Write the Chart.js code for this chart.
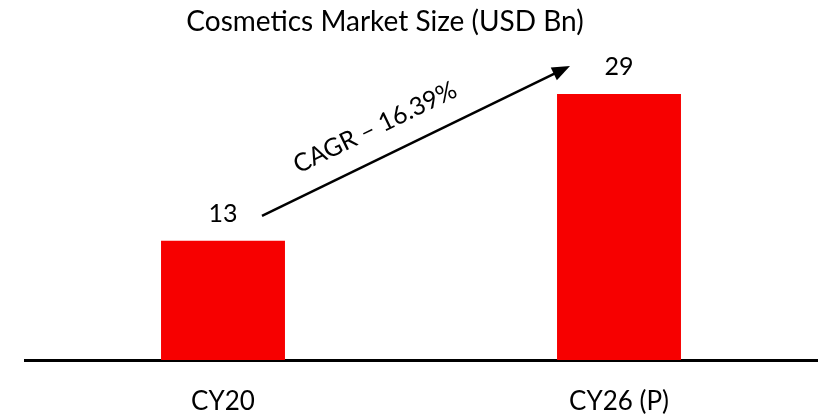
<!DOCTYPE html>
<html>
<head>
<meta charset="utf-8">
<script src="https://cdn.jsdelivr.net/npm/chart.js@4.4.1/dist/chart.umd.min.js"></script>
<style>
html,body{margin:0;padding:0;background:#fff;}
#wrap{width:820px;height:415px;position:relative;}
</style>
</head>
<body>
<div id="wrap"><canvas id="c"></canvas></div>
<script>
const categories = ["CY20", "CY26 (P)"];
const marketSize = [13, 29];
const chartTitle = "Cosmetics Market Size (USD Bn)";
const cagrLabel = "CAGR \u2013 16.39%";

const FONT = "Lato, 'Liberation Sans', sans-serif";

const overlay = {
  id: 'overlay',
  afterDatasetsDraw(chart) {
    const ctx = chart.ctx;
    const bars = chart.getDatasetMeta(0).data;
    ctx.save();
    // value labels
    ctx.fillStyle = '#000';
    ctx.font = '25px ' + FONT;
    ctx.textAlign = 'center';
    ctx.textBaseline = 'middle';
    bars.forEach((b, i) => {
      ctx.fillText(String(marketSize[i]), b.x, b.y - 27);
    });
    // title
    ctx.font = '28px ' + FONT;
    ctx.fillText(chartTitle, chart.chartArea.left + (chart.chartArea.right - chart.chartArea.left) / 2 - 36, 22);
    // arrow
    const b1 = bars[0], b2 = bars[1];
    const x1 = b1.x + 39, y1 = b1.y - 25;
    const x2 = b2.x - 49, y2 = b2.y - 28;
    const ang = Math.atan2(y2 - y1, x2 - x1);
    const head = 18;
    ctx.strokeStyle = '#000';
    ctx.lineWidth = 2.5;
    ctx.beginPath();
    ctx.moveTo(x1, y1);
    ctx.lineTo(x2 - head * 0.8 * Math.cos(ang), y2 - head * 0.8 * Math.sin(ang));
    ctx.stroke();
    ctx.beginPath();
    ctx.moveTo(x2, y2);
    ctx.lineTo(x2 - head * Math.cos(ang) + 7 * Math.sin(ang), y2 - head * Math.sin(ang) - 7 * Math.cos(ang));
    ctx.lineTo(x2 - head * Math.cos(ang) - 7 * Math.sin(ang), y2 - head * Math.sin(ang) + 7 * Math.cos(ang));
    ctx.closePath();
    ctx.fillStyle = '#000';
    ctx.fill();
    // CAGR text
    const t = 0.41;
    const mx = x1 + (x2 - x1) * t, my = y1 + (y2 - y1) * t;
    const off = 30;
    const tx = mx + off * Math.sin(ang), ty = my - off * Math.cos(ang);
    ctx.translate(tx, ty);
    ctx.rotate(ang);
    ctx.font = '25px ' + FONT;
    ctx.fillText(cagrLabel, 0, 0);
    ctx.restore();
  }
};

new Chart(document.getElementById('c'), {
  type: 'bar',
  data: {
    labels: categories,
    datasets: [{
      data: marketSize,
      backgroundColor: 'rgb(247,0,0)',
      borderWidth: 0,
      barPercentage: 0.313,
      categoryPercentage: 1.0
    }]
  },
  options: {
    responsive: true,
    maintainAspectRatio: false,
    animation: false,
    layout: { padding: { left: 25, right: 3, top: 39, bottom: 0 } },
    plugins: { legend: { display: false }, tooltip: { enabled: false }, title: { display: false } },
    scales: {
      x: {
        grid: { display: false, drawTicks: false },
        border: { display: true, color: '#000', width: 3 },
        ticks: { color: '#000', font: { family: FONT, size: 26 }, padding: 26 },
        afterFit(scale) { scale.height = 55; }
      },
      y: {
        display: false,
        min: 0,
        max: 35
      }
    }
  },
  plugins: [overlay]
});
</script>
</body>
</html>
